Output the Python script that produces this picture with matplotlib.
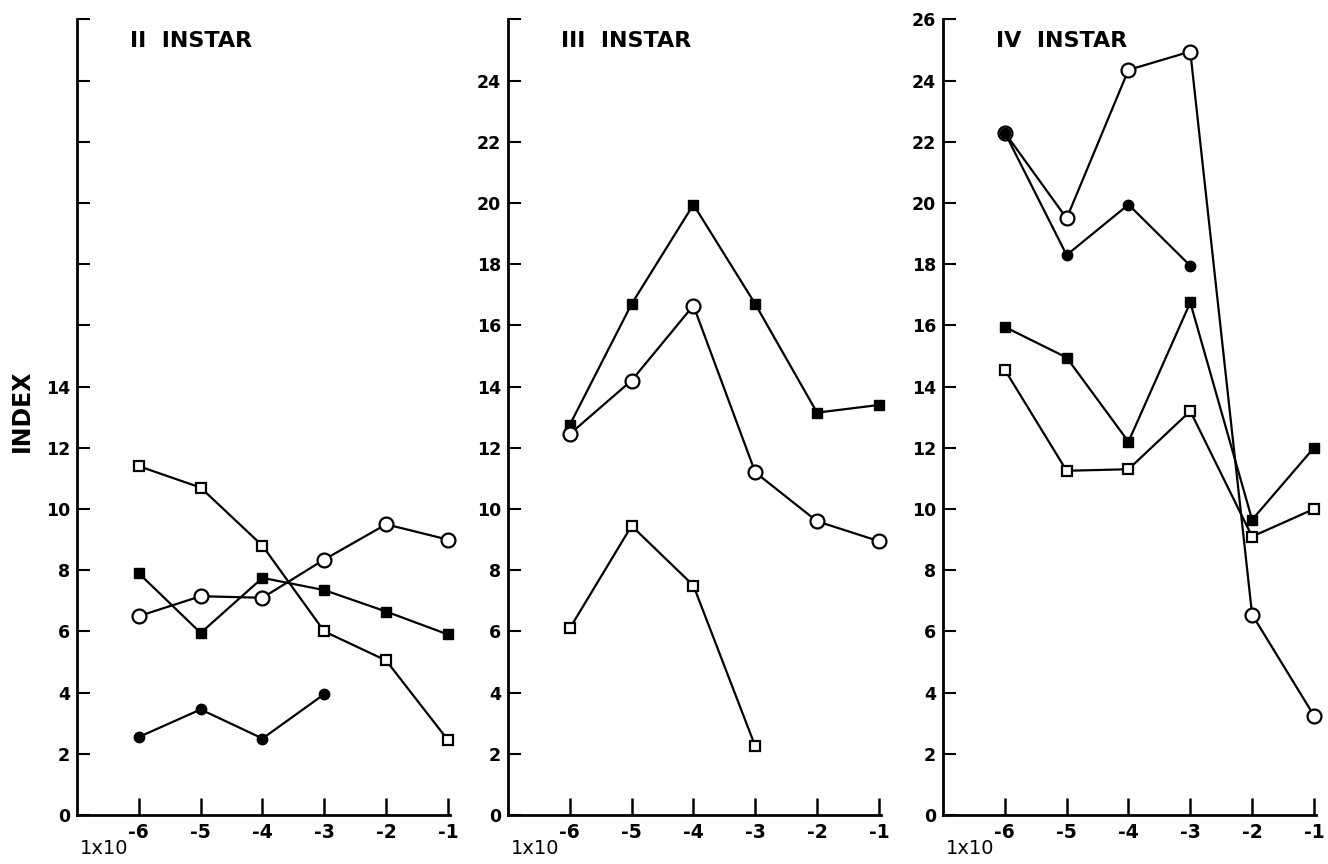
import matplotlib.pyplot as plt
import matplotlib.transforms as mtransforms

plt.rcParams['font.family'] = 'DejaVu Sans'
plt.rcParams['font.weight'] = 'bold'
plt.rcParams['axes.unicode_minus'] = False

# log10 of concentration (1x10^n)
conc = [-6, -5, -4, -3, -2, -1]

# II instar
ii_open_sq = [11.4, 10.7, 8.8, 6.0, 5.05, 2.45]
ii_open_ci = [6.5, 7.15, 7.1, 8.35, 9.5, 9.0]
ii_fill_sq = [7.9, 5.95, 7.75, 7.35, 6.65, 5.9]
ii_fill_ci = [2.55, 3.45, 2.5, 3.95]

# III instar
iii_fill_sq = [12.75, 16.7, 19.95, 16.7, 13.15, 13.4]
iii_open_ci = [12.45, 14.2, 16.65, 11.2, 9.6, 8.95]
iii_open_sq = [6.1, 9.45, 7.5, 2.25]

# IV instar
iv_open_ci = [22.3, 19.5, 24.35, 24.95, 6.55, 3.25]
iv_fill_ci = [22.3, 18.3, 19.95, 17.95]
iv_fill_sq = [15.95, 14.95, 12.2, 16.75, 9.65, 12.0]
iv_open_sq = [14.55, 11.25, 11.3, 13.2, 9.1, 10.0]

yticks = list(range(0, 27, 2))

styles = {
    'open_ci': dict(marker='o', ms=10, mfc='white', mec='black', mew=1.6),
    'fill_ci': dict(marker='o', ms=7.5, mfc='black', mec='black', mew=1),
    'open_sq': dict(marker='s', ms=6.5, mfc='white', mec='black', mew=1.6),
    'fill_sq': dict(marker='s', ms=7, mfc='black', mec='black', mew=1),
}

panels = [
    ('II  INSTAR', 0.058, 14,
     [('open_sq', ii_open_sq), ('fill_sq', ii_fill_sq), ('open_ci', ii_open_ci), ('fill_ci', ii_fill_ci)]),
    ('III  INSTAR', 0.3825, 24,
     [('fill_sq', iii_fill_sq), ('open_ci', iii_open_ci), ('open_sq', iii_open_sq)]),
    ('IV  INSTAR', 0.7101, 26,
     [('fill_sq', iv_fill_sq), ('open_sq', iv_open_sq), ('open_ci', iv_open_ci), ('fill_ci', iv_fill_ci)]),
]

fig = plt.figure(figsize=(13.28, 8.64), dpi=100)

for title, left, top_label, series in panels:
    ax = fig.add_axes([left, 0.0567, 0.2807, 0.9208])
    for key, vals in series:
        ax.plot(conc[:len(vals)], vals, color='black', lw=1.6, clip_on=False, **styles[key])
    ax.set_xlim(-7, -0.97)
    ax.set_ylim(0, 26)
    ax.set_xticks(conc)
    ax.set_xticklabels([str(c) for c in conc])
    ax.set_yticks(yticks)
    ax.set_yticklabels([str(t) if t <= top_label else '' for t in yticks])
    for side in ['top', 'right']:
        ax.spines[side].set_visible(False)
    for side in ['left', 'bottom']:
        ax.spines[side].set_linewidth(2)
    ax.tick_params(axis='y', direction='in', length=9, width=1.5, labelsize=12.5, pad=5)
    ax.tick_params(axis='x', direction='in', length=12, width=1.8, labelsize=13.5, pad=6)
    ax.text(-6.14, 25.3, title, fontsize=16, fontweight='bold', va='center', ha='left')
    trans = mtransforms.blended_transform_factory(ax.transData, ax.transAxes)
    ax.text(-6.96, -0.042, '1x10', transform=trans, fontsize=14, fontweight='normal',
            ha='left', va='center')

fig.text(0.0166, 0.525, 'INDEX', rotation=90, fontsize=17, fontweight='bold',
         ha='center', va='center')

fig.savefig('out.png', dpi=100)
